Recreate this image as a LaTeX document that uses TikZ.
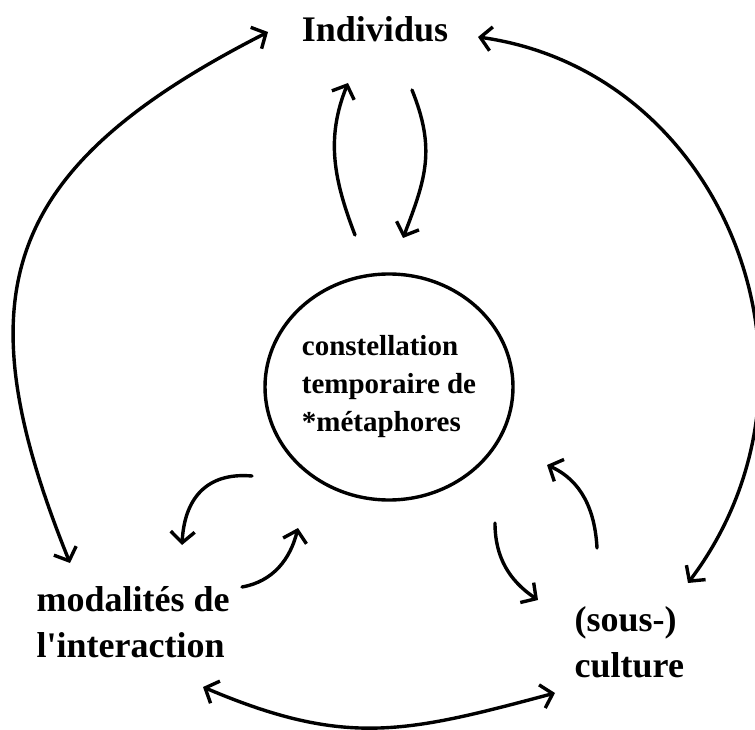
\documentclass[tikz,border=0pt]{standalone}
\usepackage{fontspec}
\setmainfont{Liberation Serif}
\usetikzlibrary{shapes.geometric,arrows.meta}

\begin{document}
\begin{tikzpicture}[x=1pt, y=1pt, line width=3.4pt, line cap=round, >={Straight Barb[length=11pt,width=24pt]},
  every node/.style={inner sep=0pt},
  term/.style={align=left, font=\bfseries\fontsize{36}{46}\selectfont},
  hub/.style={ellipse, draw, minimum width=248pt, minimum height=226pt, align=left, font=\bfseries\fontsize{29}{38}\selectfont}]
  \useasboundingbox (0,0) rectangle (755,729);
  \node[term, anchor=base] (ind) at (375,687) {Individus};
  \node[hub] (meta) at (389,342) {constellation\\temporaire de\\*métaphores};
  \node[term, anchor=base west] (mod) at (35,72) {modalités de\\l\textquotesingle interaction};
  \node[term, anchor=base west] (cult) at (573,52) {(sous-)\\culture};
  % free ends of the arrows
  \coordinate (iL) at (268,697);  \coordinate (mT) at (70,166);
  \coordinate (iR) at (478,692);  \coordinate (cT) at (688,146);
  \coordinate (mB) at (203,42);   \coordinate (cB) at (555,36);
  \coordinate (up0) at (355,494); \coordinate (up1) at (348,646);
  \coordinate (dn0) at (412,639); \coordinate (dn1) at (403,491);
  \coordinate (ma0) at (252,253); \coordinate (ma1) at (182,184);
  \coordinate (mb0) at (242,142); \coordinate (mb1) at (298,201);
  \coordinate (ca0) at (495,206); \coordinate (ca1) at (538,129);
  \coordinate (cb0) at (597,181); \coordinate (cb1) at (547,264);
  \draw[<->] (iL) to[out=207, in=112, out distance=300, in distance=290] (mT);
  \draw[<->] (iR) to[out=-8, in=53, out distance=250, in distance=260] (cT);
  \draw[<->] (mB) to[out=-23, in=195, distance=155] (cB);
  \draw[->] (up0) to[out=111, in=248] (up1);
  \draw[->] (dn0) to[out=-68, in=69, looseness=1.1] (dn1);
  \draw[->] (ma0) to[out=175, in=87, looseness=1.2] (ma1);
  \draw[->] (mb0) to[out=10, in=256] (mb1);
  \draw[->] (ca0) to[out=-90, in=146] (ca1);
  \draw[->] (cb0) to[out=93, in=-24] (cb1);
\end{tikzpicture}
\end{document}
